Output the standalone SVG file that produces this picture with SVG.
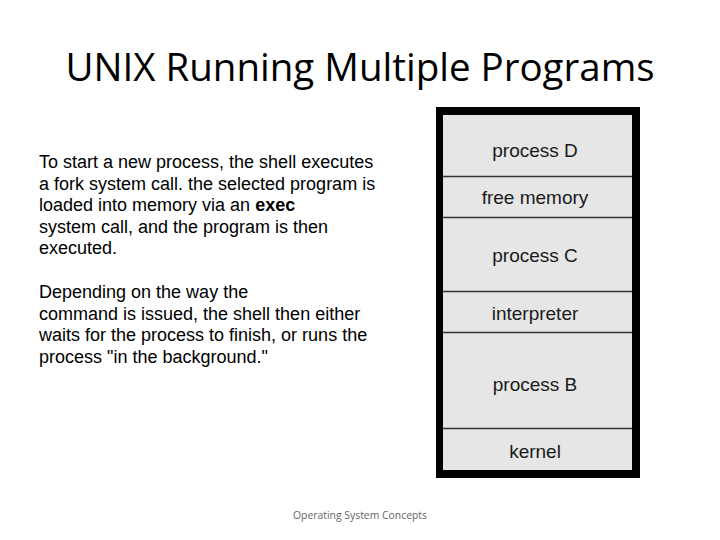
<svg xmlns="http://www.w3.org/2000/svg" width="720" height="540" viewBox="0 0 720 540">
<style>
.title{font-family:"Open Sans","Liberation Sans",sans-serif;font-size:38.5px;fill:#000}
.body{font-family:"Liberation Sans",Arial,sans-serif;font-size:18px;fill:#000}
.seg{fill:#e6e6e6}
.lbl{font-family:"Liberation Sans",Arial,sans-serif;font-size:19px;fill:#1a1a1a;text-anchor:middle}
.div{stroke:#333;stroke-width:1.5}
.foot{font-family:"Open Sans","Liberation Sans",sans-serif;font-size:10.4px;fill:#666;text-anchor:middle}
</style>
<rect width="720" height="540" fill="#fff"/>
<text class="title" x="360" y="81" text-anchor="middle">UNIX Running Multiple Programs</text>
<g id="desc">
<text class="body" x="39" y="168">To start a new process, the shell executes</text>
<text class="body" x="39" y="190">a fork system call. the selected program is</text>
<text class="body" x="39" y="211">loaded into memory via an <tspan font-weight="bold">exec</tspan></text>
<text class="body" x="39" y="233">system call, and the program is then</text>
<text class="body" x="39" y="254">executed.</text>
<text class="body" x="39" y="298">Depending on the way the</text>
<text class="body" x="39" y="320">command is issued, the shell then either</text>
<text class="body" x="39" y="341">waits for the process to finish, or runs the</text>
<text class="body" x="39" y="363">process "in the background."</text>
</g>
<g id="memory">
<rect x="436" y="107" width="204" height="371" fill="#000"/>
<rect class="seg" x="443" y="115" width="189" height="355"/>
</g>
<g id="processD"><text class="lbl" x="535" y="157">process D</text></g>
<g id="freeMemory"><text class="lbl" x="535" y="204">free memory</text></g>
<g id="processC"><text class="lbl" x="535" y="262">process C</text></g>
<g id="interpreter"><text class="lbl" x="535" y="320">interpreter</text></g>
<g id="processB"><text class="lbl" x="535" y="391">process B</text></g>
<g id="kernel"><text class="lbl" x="535" y="458">kernel</text></g>
<g id="dividers">
<line class="div" x1="443" y1="176.5" x2="632" y2="176.5"/>
<line class="div" x1="443" y1="217.5" x2="632" y2="217.5"/>
<line class="div" x1="443" y1="291.5" x2="632" y2="291.5"/>
<line class="div" x1="443" y1="332.5" x2="632" y2="332.5"/>
<line class="div" x1="443" y1="428.5" x2="632" y2="428.5"/>
</g>
<text class="foot" x="360" y="519">Operating System Concepts</text>
</svg>
